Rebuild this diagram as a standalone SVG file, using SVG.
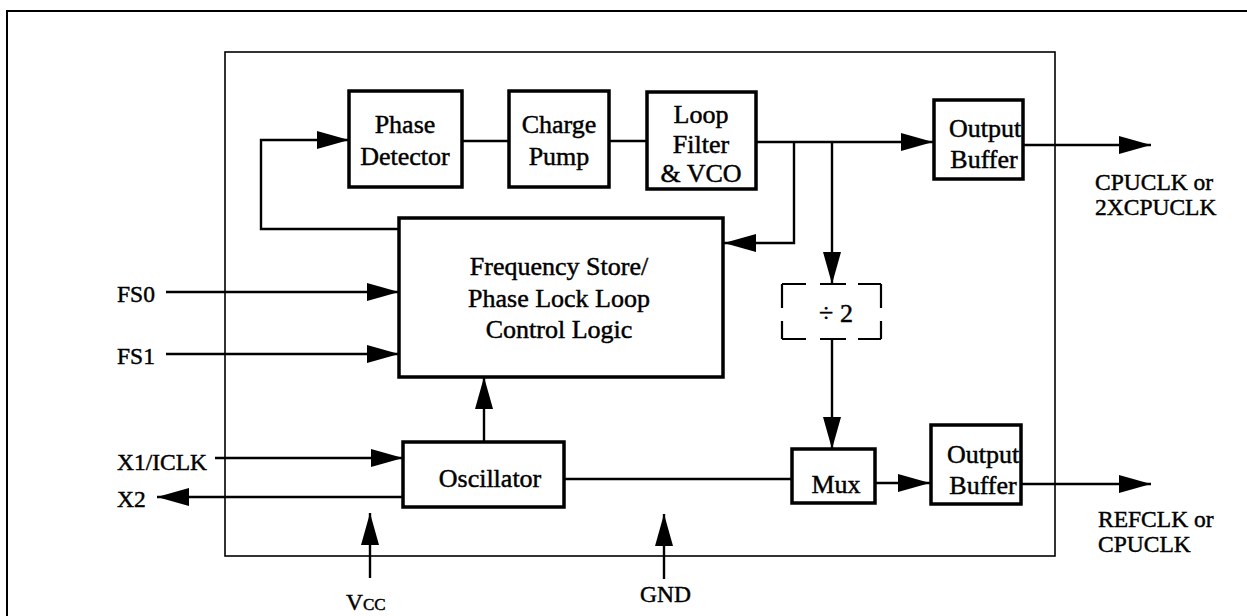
<svg xmlns="http://www.w3.org/2000/svg" width="1247" height="616" viewBox="0 0 1247 616">
<style>
.blk{fill:#fff;stroke:#000;stroke-width:3.5}
.frame{fill:none;stroke:#000;stroke-width:2}
.conn{fill:none;stroke:#000;stroke-width:2.4}
.dash{fill:none;stroke:#000;stroke-width:2.2}
text{font-family:"Liberation Serif","Times New Roman",serif;fill:#000;stroke:#000;stroke-width:0.45}
.t{font-size:26px;text-anchor:middle}
.lbl{font-size:23.5px}
</style>
<defs>
<marker id="ah" markerUnits="userSpaceOnUse" markerWidth="34" markerHeight="20" refX="33" refY="10" orient="auto">
<path d="M1,1 L33,10 L1,19 z" fill="#000"/>
</marker>
</defs>
<rect width="1247" height="616" fill="#fff"/>
<g id="outer-frame">
<path class="frame" d="M7,620 V11 H1250"/>
</g>
<g id="chip-boundary">
<rect x="225" y="52" width="830" height="504" fill="none" stroke="#000" stroke-width="1.6"/>
</g>
<g id="connectors">
<path class="conn" d="M462,141 H509"/>
<path class="conn" d="M609,141 H647"/>
<path class="conn" d="M756,142 H933" marker-end="url(#ah)"/>
<path class="conn" d="M1023,145 H1151" marker-end="url(#ah)"/>
<path class="conn" d="M794,142 V243 H724" marker-end="url(#ah)"/>
<path class="conn" d="M832,142 V284" marker-end="url(#ah)"/>
<path class="conn" d="M832,339 V449" marker-end="url(#ah)"/>
<path class="conn" d="M399,229 H261 V140 H349" marker-end="url(#ah)"/>
<path class="conn" d="M166,292 H399" marker-end="url(#ah)"/>
<path class="conn" d="M166,354 H399" marker-end="url(#ah)"/>
<path class="conn" d="M215,458 H403" marker-end="url(#ah)"/>
<path class="conn" d="M403,497 H157" marker-end="url(#ah)"/>
<path class="conn" d="M484,442 V377" marker-end="url(#ah)"/>
<path class="conn" d="M564,479 H792"/>
<path class="conn" d="M875,483 H930" marker-end="url(#ah)"/>
<path class="conn" d="M1021,484 H1151" marker-end="url(#ah)"/>
<path class="conn" d="M370,578 V513" marker-end="url(#ah)"/>
<path class="conn" d="M664,579 V514" marker-end="url(#ah)"/>
</g>
<g id="phase-detector">
<rect class="blk" x="349" y="91" width="113" height="96"/>
<text class="t" x="405" y="133">Phase</text>
<text class="t" x="405" y="165">Detector</text>
</g>
<g id="charge-pump">
<rect class="blk" x="509" y="91" width="100" height="96"/>
<text class="t" x="559" y="133">Charge</text>
<text class="t" x="559" y="165">Pump</text>
</g>
<g id="loop-filter-vco">
<rect class="blk" x="647" y="92" width="109" height="97"/>
<text class="t" x="701" y="123">Loop</text>
<text class="t" x="701" y="153">Filter</text>
<text class="t" x="701" y="182">&amp; VCO</text>
</g>
<g id="output-buffer-1">
<rect class="blk" x="934" y="100" width="89" height="79"/>
<text class="t" x="985" y="137">Output</text>
<text class="t" x="984" y="168">Buffer</text>
</g>
<g id="control-logic">
<rect class="blk" x="399" y="218" width="324" height="159"/>
<text class="t" x="559" y="275">Frequency Store/</text>
<text class="t" x="559" y="307">Phase Lock Loop</text>
<text class="t" x="559" y="338">Control Logic</text>
</g>
<g id="divide-by-2">
<path class="dash" d="M782,284 H806 M820,284 H846 M858,284 H881 M782,339 H806 M820,339 H846 M858,339 H881 M782,284 V308 M782,321 V339 M881,284 V308 M881,321 V339"/>
<text class="t" x="836" y="322">÷ 2</text>
</g>
<g id="oscillator">
<rect class="blk" x="403" y="442" width="161" height="65"/>
<text class="t" x="490" y="487">Oscillator</text>
</g>
<g id="mux">
<rect class="blk" x="792" y="449" width="83" height="54"/>
<text class="t" x="836" y="493">Mux</text>
</g>
<g id="output-buffer-2">
<rect class="blk" x="931" y="425" width="90" height="79"/>
<text class="t" x="983" y="463">Output</text>
<text class="t" x="983" y="494">Buffer</text>
</g>
<g id="labels">
<text class="lbl" x="117" y="302">FS0</text>
<text class="lbl" x="117" y="364">FS1</text>
<text class="lbl" x="117" y="470">X1/ICLK</text>
<text class="lbl" x="117" y="507">X2</text>
<text class="lbl" x="346" y="610">V<tspan font-size="17px">CC</tspan></text>
<text class="lbl" x="640" y="602">GND</text>
<text class="lbl" x="1095" y="190">CPUCLK or</text>
<text class="lbl" x="1095" y="215">2XCPUCLK</text>
<text class="lbl" x="1098" y="527">REFCLK or</text>
<text class="lbl" x="1098" y="552">CPUCLK</text>
</g>
</svg>
